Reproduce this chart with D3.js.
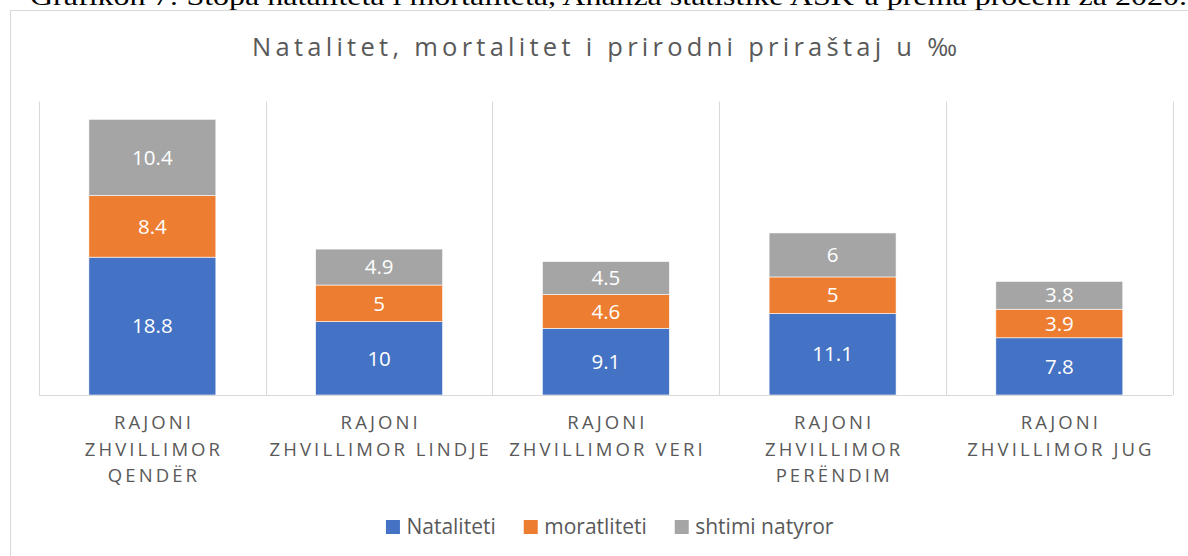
<!DOCTYPE html>
<html><head><meta charset="utf-8">
<script src="https://cdn.jsdelivr.net/npm/d3@7"></script>
<style>
html,body{margin:0;padding:0;background:#fff;overflow:hidden;}
svg{display:block;}
</style></head>
<body>
<svg id="chart" width="1188" height="556"></svg>
<script>
const categories = [
  "RAJONI ZHVILLIMOR QENDËR",
  "RAJONI ZHVILLIMOR LINDJE",
  "RAJONI ZHVILLIMOR VERI",
  "RAJONI ZHVILLIMOR PERËNDIM",
  "RAJONI ZHVILLIMOR JUG"
];
const categoryLines = [
  ["RAJONI", "ZHVILLIMOR", "QENDËR"],
  ["RAJONI", "ZHVILLIMOR LINDJE"],
  ["RAJONI", "ZHVILLIMOR VERI"],
  ["RAJONI", "ZHVILLIMOR", "PERËNDIM"],
  ["RAJONI", "ZHVILLIMOR JUG"]
];
const seriesNames = ["Nataliteti", "moratliteti", "shtimi natyror"];
const natalitetiValues = [18.8, 10, 9.1, 11.1, 7.8];
const moratlitetiValues = [8.4, 5, 4.6, 5, 3.9];
const shtimiValues = [10.4, 4.9, 4.5, 6, 3.8];
const seriesColors = ["#4472C4", "#ED7D31", "#A5A5A5"];
const chartTitle = "Natalitet, mortalitet i prirodni priraštaj u ‰";
const captionText = "Grafikon 7: Stopa nataliteta i mortaliteta, Analiza statistike ASK-a prema proceni za 2020.";

const svg = d3.select("#chart");
const font = "'Open Sans', 'Noto Sans', sans-serif";
const gray = "#595959";
const grid = "#d9d9d9";

// caption (cut off at top, as in the source)
svg.append("text").attr("x", 30).attr("y", 5)
  .attr("font-family", "'Liberation Serif', 'DejaVu Serif', serif")
  .attr("font-size", 25).attr("fill", "#000")
  .attr("textLength", 1157).attr("lengthAdjust", "spacingAndGlyphs")
  .text(captionText);

// chart area border
svg.append("rect").attr("x", 10.5).attr("y", 10.5).attr("width", 1300).attr("height", 700)
  .attr("fill", "#fff").attr("stroke", grid).attr("stroke-width", 1);

// title
svg.append("text").attr("x", 604.5).attr("y", 56).attr("text-anchor", "middle")
  .attr("font-family", font).attr("font-size", 25.5).attr("fill", gray)
  .attr("textLength", 705).attr("lengthAdjust", "spacing")
  .text(chartTitle);

const plot = {left: 39, right: 1172.7, top: 101.7, bottom: 395};

const x = d3.scaleBand().domain(categories).range([plot.left, plot.right])
  .paddingInner(0.44).paddingOuter(0.22);
const y = d3.scaleLinear().domain([0, 40]).range([plot.bottom, plot.top]);

const table = categories.map((c, i) => ({
  cat: c,
  [seriesNames[0]]: natalitetiValues[i],
  [seriesNames[1]]: moratlitetiValues[i],
  [seriesNames[2]]: shtimiValues[i]
}));
const stacked = d3.stack().keys(seriesNames)(table);

// vertical gridlines at category boundaries
const step = x.step();
const bounds = d3.range(categories.length + 1).map(i => plot.left + i * step);
svg.append("g").selectAll("line").data(bounds).join("line")
  .attr("x1", d => Math.round(d) + 0.5).attr("x2", d => Math.round(d) + 0.5)
  .attr("y1", plot.top).attr("y2", plot.bottom)
  .attr("stroke", grid).attr("stroke-width", 1);

// bars
const layers = svg.append("g").selectAll("g").data(stacked).join("g")
  .attr("fill", (d, i) => seriesColors[i]);
layers.selectAll("rect").data(d => d).join("rect")
  .attr("x", d => x(d.data.cat))
  .attr("width", x.bandwidth())
  .attr("y", d => y(d[1]))
  .attr("height", d => y(d[0]) - y(d[1]))
  .attr("stroke", "#fff").attr("stroke-width", 0.6);

// data labels
layers.selectAll("text").data(d => d.map(v => ({v, key: d.key}))).join("text")
  .attr("x", d => x(d.v.data.cat) + x.bandwidth() / 2)
  .attr("y", d => (y(d.v[0]) + y(d.v[1])) / 2)
  .attr("dy", "0.35em")
  .attr("text-anchor", "middle")
  .attr("font-family", font).attr("font-size", 20.5).attr("fill", "#fff")
  .text(d => d3.format("")(d.v.data[d.key]));

// axis baseline
svg.append("line").attr("x1", plot.left).attr("x2", plot.right)
  .attr("y1", plot.bottom + 0.5).attr("y2", plot.bottom + 0.5)
  .attr("stroke", grid).attr("stroke-width", 1);

// category labels
const labG = svg.append("g");
categories.forEach((c, i) => {
  const cx = x(c) + x.bandwidth() / 2;
  categoryLines[i].forEach((ln, j) => {
    labG.append("text").attr("x", cx + 1.6).attr("y", 429.3 + j * 26.2)
      .attr("text-anchor", "middle")
      .attr("font-family", font).attr("font-size", 18.5).attr("fill", gray)
      .attr("letter-spacing", "3.1px")
      .text(ln);
  });
});

// legend
const leg = svg.append("g");
let lx = 0;
seriesNames.forEach((n, i) => {
  const g = leg.append("g").attr("transform", `translate(${lx},0)`);
  g.append("rect").attr("x", 0).attr("y", -7).attr("width", 14).attr("height", 14)
    .attr("fill", seriesColors[i]);
  const t = g.append("text").attr("x", 20.5).attr("y", 0).attr("dy", "0.35em")
    .attr("font-family", font).attr("font-size", 21).attr("fill", gray).text(n);
  const w = t.node().getComputedTextLength();
  lx += 20.5 + w + 28;
});
const legW = lx - 28;
leg.attr("transform", `translate(${609.7 - legW / 2},527)`);
</script>
</body></html>
